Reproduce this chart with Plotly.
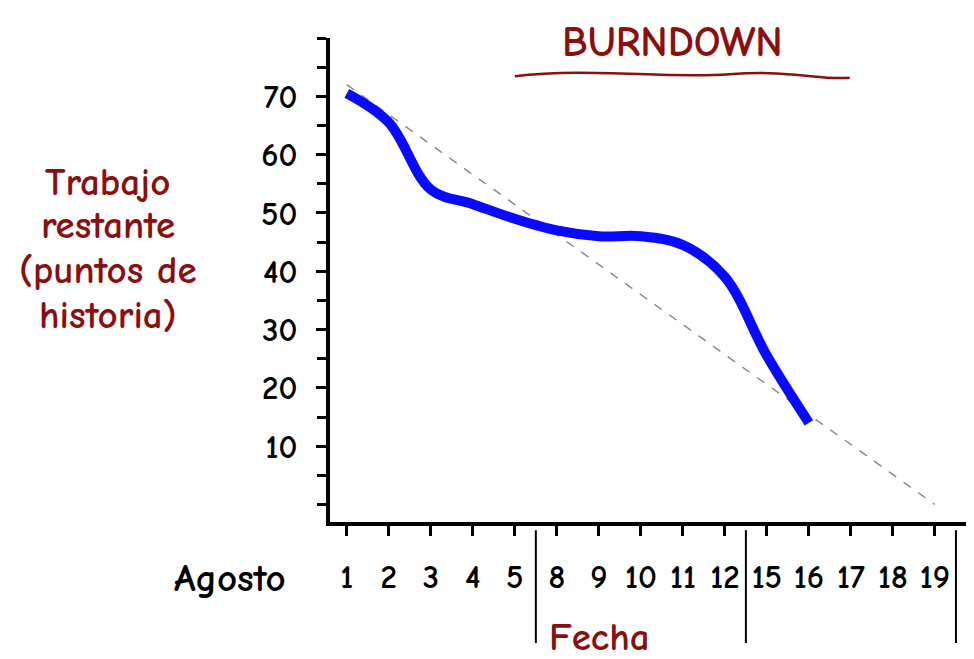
import plotly.graph_objects as go

# ---- data ----
days = ["1", "2", "3", "4", "5", "8", "9", "10", "11", "12", "15", "16", "17", "18", "19"]
actual_days = ["1", "2", "3", "4", "5", "8", "9", "10", "11", "12", "15", "16"]
actual_remaining = [70.5, 65.5, 54, 51.5, 49, 47, 46, 46, 44.5, 39, 25.5, 14]
ideal_days = ["1", "19"]
ideal_remaining = [72, 0]
y_ticks = [10, 20, 30, 40, 50, 60, 70]
week_breaks = [4.5, 9.5, 14.5]
y_title_lines = ["Trabajo", "restante", "(puntos de", "historia)"]

RED = "#8a1010"
FONT = "Comic Sans MS, Comic Neue, Noto Sans, sans-serif"

fig = go.Figure()

fig.add_trace(go.Scatter(
    x=ideal_days, y=ideal_remaining, mode="lines",
    line=dict(color="#8c8c8c", width=1.5, dash="dash"),
    hoverinfo="skip", showlegend=False,
))
fig.add_trace(go.Scatter(
    x=actual_days, y=actual_remaining, mode="lines",
    line=dict(color="#0a0aff", width=10, shape="spline", smoothing=1.0),
    showlegend=False,
))

fig.update_layout(
    width=966, height=651,
    margin=dict(l=322, r=0, t=30, b=137),
    paper_bgcolor="white", plot_bgcolor="white",
    font=dict(family=FONT, color="black"),
    xaxis=dict(
        type="category", categoryorder="array", categoryarray=days,
        tickvals=days, ticktext=days,
        range=[-0.4, 14.93],
        showline=True, linecolor="black", linewidth=4,
        ticks="outside", ticklen=10, tickwidth=2.5, tickcolor="black",
        showgrid=False, zeroline=False,
        tickfont=dict(size=33, color="black", family=FONT, weight="bold"),
        ticklabelstandoff=12,
    ),
    yaxis=dict(
        range=[-3, 80],
        tickvals=y_ticks,
        showline=True, linecolor="black", linewidth=4,
        ticks="outside", ticklen=10, tickwidth=2.5, tickcolor="black",
        minor=dict(dtick=5, tick0=0, ticks="outside", ticklen=9, tickwidth=2.5, tickcolor="black"),
        showgrid=False, zeroline=False,
        tickfont=dict(size=33, color="black", family=FONT, weight="bold"),
        ticklabelstandoff=12,
    ),
)

shapes = []
for b in week_breaks:
    shapes.append(dict(type="line", xref="x", yref="paper", x0=b, x1=b,
                       y0=-0.017, y1=-0.25, line=dict(color="black", width=2)))
# title underline
shapes.append(dict(type="path", xref="paper", yref="paper",
                   path="M 0.287,0.921 C 0.40,0.940 0.52,0.915 0.62,0.925 S 0.76,0.912 0.807,0.918",
                   line=dict(color=RED, width=2.5)))
fig.update_layout(shapes=shapes)

annotations = [
    dict(text="<b>BURNDOWN</b>", x=0.532, y=0.99, xref="paper", yref="paper",
         showarrow=False, xanchor="center", yanchor="middle",
         font=dict(size=42, color=RED, family=FONT)),
    dict(text="<b>Agosto</b>", x=-0.155, y=-0.116, xref="paper", yref="paper",
         showarrow=False, xanchor="center", yanchor="middle",
         font=dict(size=39, color="black", family=FONT)),
    dict(text="<b>Fecha</b>", x=0.419, y=-0.238, xref="paper", yref="paper",
         showarrow=False, xanchor="center", yanchor="middle",
         font=dict(size=39, color=RED, family=FONT)),
]
# y-axis title, one annotation per line to control spacing
line_px = [182, 225, 270, 315]
for txt, py in zip(y_title_lines, line_px):
    annotations.append(dict(text="<b>%s</b>" % txt, x=-0.345, y=(522 - py) / 484,
                            xref="paper", yref="paper", showarrow=False,
                            xanchor="center", yanchor="middle",
                            font=dict(size=39, color=RED, family=FONT)))
fig.update_layout(annotations=annotations)

fig.write_html("out.html")
